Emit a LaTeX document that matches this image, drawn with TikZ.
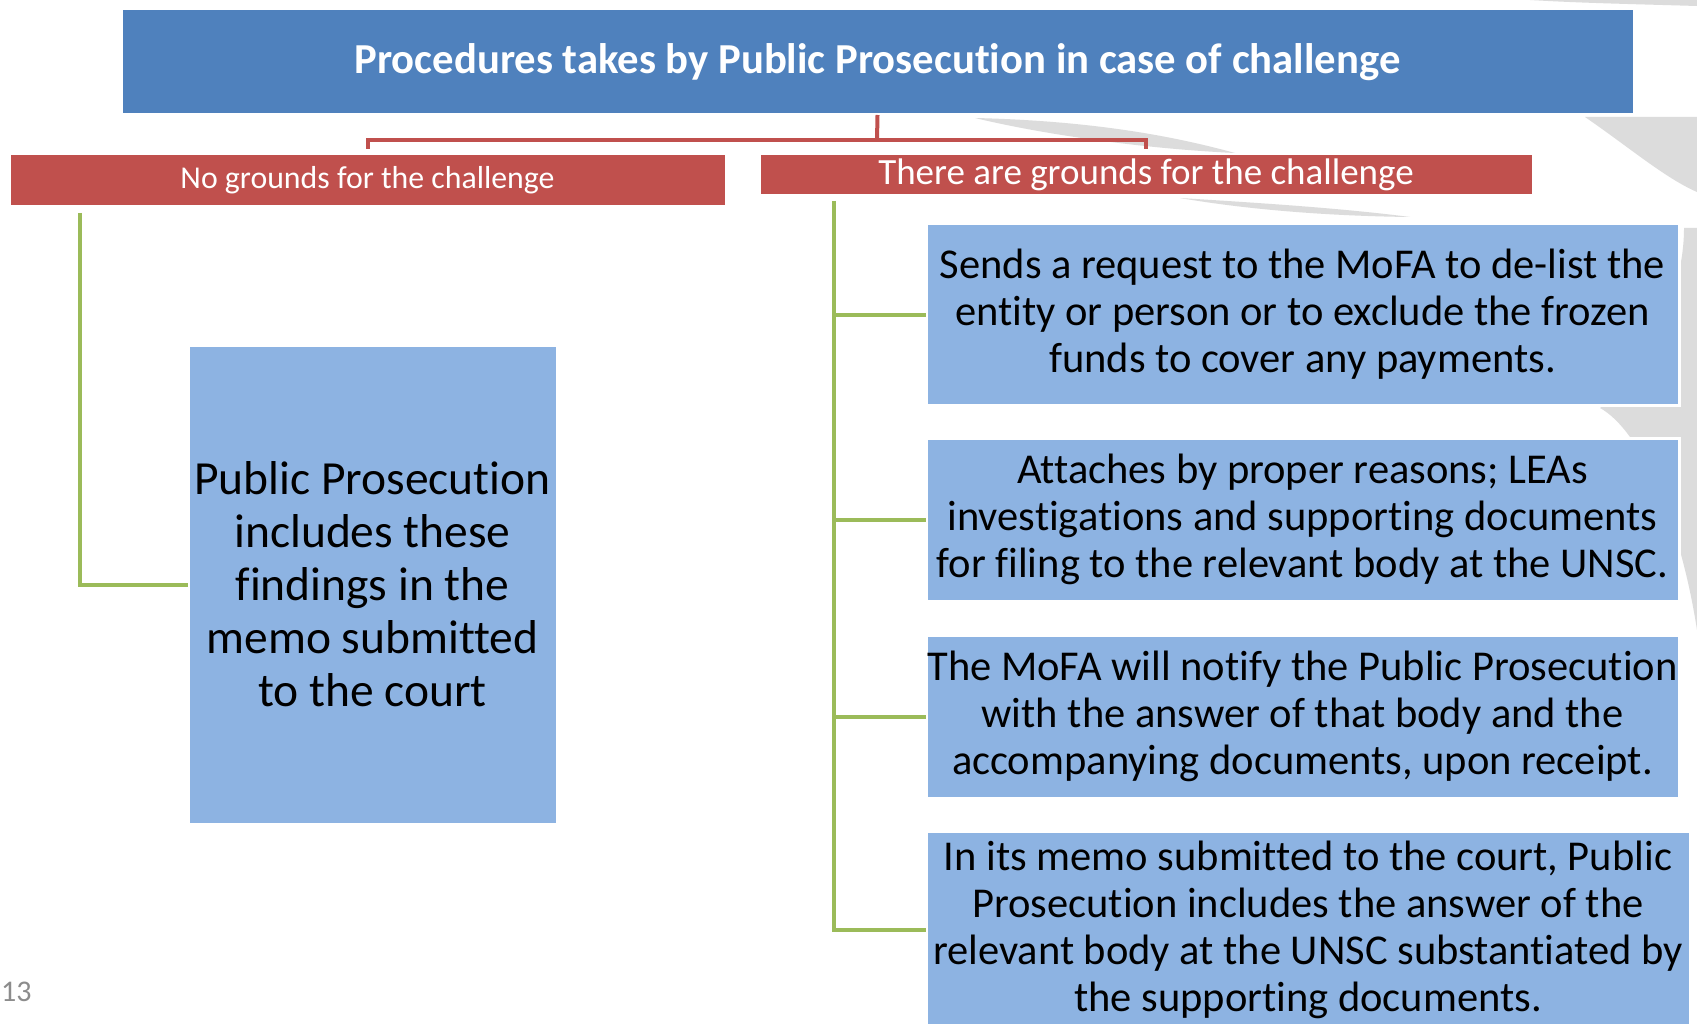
\documentclass[tikz,border=0pt]{standalone}
\usepackage{fontspec}
\setmainfont{Carlito}[Ligatures=NoCommon]
\usetikzlibrary{positioning}

\definecolor{titleblue}{HTML}{4F81BD}
\definecolor{barred}{HTML}{C0504D}
\definecolor{leafblue}{HTML}{8DB3E2}
\definecolor{stemgreen}{HTML}{9BBB59}
\definecolor{swoosh}{HTML}{DCDCDC}
\definecolor{pagenum}{HTML}{8C8C8C}

\begin{document}
\begin{tikzpicture}[
    x=1pt, y=-1pt,
    headbox/.style={rectangle, fill=titleblue, draw=white, line width=3pt, outer sep=0pt, inner sep=0pt, text=white, font=\fontsize{42.7}{50}\selectfont\bfseries},
    casebox/.style={rectangle, fill=barred, draw=white, line width=1pt, outer sep=0pt, inner sep=0pt, text=white},
    leaf/.style={rectangle, fill=leafblue, draw=white, line width=3pt, outer sep=0pt, inner sep=0pt, align=center, minimum width=753pt, font=\fontsize{42.5}{47}\selectfont},
    bracket/.style={draw=barred, line width=4pt},
    stem/.style={draw=stemgreen, line width=4pt},
    node distance=33pt
]

    %% page and background
    \useasboundingbox (0,0) rectangle (1697,1024);
    \clip (0,0) rectangle (1697,1024);
    \fill [white] (0,0) rectangle (1697,1024);

    % template swooshes
    \fill [swoosh] (975,118) .. controls (1100,121) and (1180,138) .. (1235,153) .. controls (1150,149) and (1050,136) .. (975,118) -- cycle;
    \fill [swoosh] (1180,198) .. controls (1260,203) and (1340,208) .. (1410,217) .. controls (1330,216) and (1250,210) .. (1180,198) -- cycle;
    \fill [swoosh] (1585,117) .. controls (1630,148) and (1665,178) .. (1697,192) -- (1697,117) -- cycle;
    \fill [swoosh] (1530,0) -- (1697,0) -- (1697,6) .. controls (1630,4) and (1580,3) .. (1530,0) -- cycle;
    \fill [swoosh] (1684,228) -- (1697,228) -- (1697,630) .. controls (1680,520) and (1640,430) .. (1600,408) .. controls (1640,380) and (1684,300) .. (1684,228) -- cycle;

    % page number
    \node [anchor=west, text=pagenum, font=\fontsize{30}{36}\selectfont, inner sep=0pt] (pageno) at (1,992) {13};

    %% HEADER
    \node [headbox, minimum width=1513pt, minimum height=106pt] (title) at (877.5,62) {Procedures takes by Public Prosecution in case of challenge};

    \node [casebox, minimum width=715pt, minimum height=51pt, font=\fontsize{31.8}{38}\selectfont] (nogrounds) at (367.5,180.5) {No grounds for the challenge};
    \node [casebox, minimum width=772pt, minimum height=40pt, font=\fontsize{37}{44}\selectfont] (grounds) at (1146,175) {There are grounds for the challenge};

    % Bracket
    \coordinate (fork) at (877,140);
    \draw [bracket] (title.south) -- (fork);
    \draw [bracket] ([yshift=6pt]nogrounds.north) |- (fork) -| ([yshift=6pt]grounds.north);

    %% NO GROUNDS
    \node [leaf, minimum width=369pt, minimum height=479pt, font=\fontsize{47.5}{53}\selectfont] (findings) at (372.5,584.5) {Public Prosecution\\includes these\\findings in the\\memo submitted\\to the court};

    \coordinate (lstem) at (80,213);
    \draw [stem] (lstem) |- (findings.west);

    %% GROUNDS
    \node [leaf, minimum height=181pt] (request) at (1302.5,314.5) {Sends a request to the MoFA to de-list the\\entity or person or to exclude the frozen\\funds to cover any payments.};
    \node [leaf, minimum height=163pt, below=33pt of request] (attaches) {Attaches by proper reasons; LEAs\\investigations and supporting documents\\for filing to the relevant body at the UNSC.};
    \node [leaf, minimum height=163pt, below=34pt of attaches] (notify) {The MoFA will notify the Public Prosecution\\with the answer of that body and the\\accompanying documents, upon receipt.};
    \node [leaf, minimum width=764pt, minimum height=198pt, below=33pt of notify, xshift=5.5pt] (memo) {In its memo submitted to the court, Public\\Prosecution includes the answer of the\\relevant body at the UNSC substantiated by\\the supporting documents.};

    \coordinate (rstem) at (834,201);
    \draw [stem] (rstem) |- (memo.west);
    \foreach \leafname in {request, attaches, notify}
        \draw [stem] (rstem |- \leafname.west) -- (\leafname.west);

\end{tikzpicture}
\end{document}
